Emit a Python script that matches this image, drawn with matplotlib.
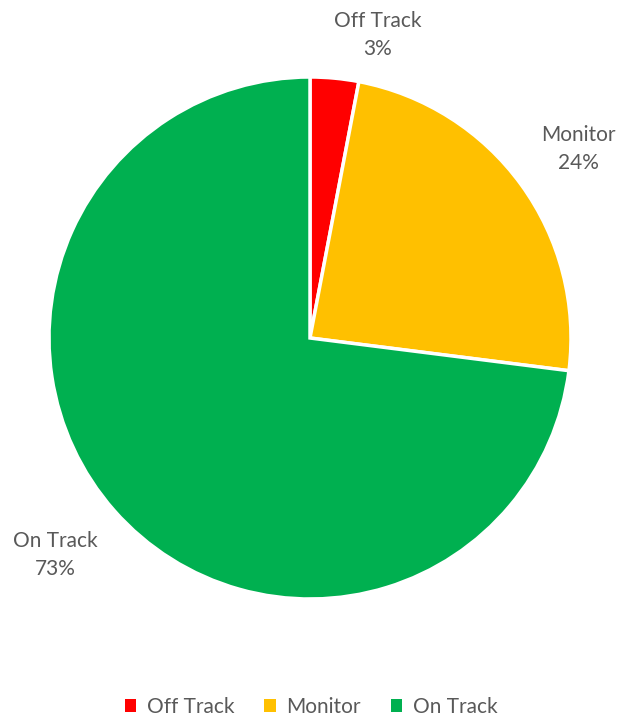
import matplotlib
matplotlib.use("Agg")
import matplotlib.pyplot as plt
import numpy as np
from matplotlib.patches import Patch

categories = ["Off Track", "Monitor", "On Track"]
values = [3, 24, 73]
colors = ["#FF0000", "#FFC000", "#00B050"]
# label centres in pixel coordinates (x from left, y from top)
label_pos = [(378, 35), (578, 149), (55, 555)]

W, H = 622, 723
fig = plt.figure(figsize=(W / 100, H / 100), dpi=100)
ax = fig.add_axes([0, 0, 1, 1])

cx, cy, R = 310, H - 338, 261
wedges, _ = ax.pie(values, colors=colors, startangle=90, counterclock=False,
                   center=(cx, cy), radius=R, frame=True,
                   wedgeprops=dict(edgecolor="white", linewidth=2.5))
ax.set_xlim(0, W)
ax.set_ylim(0, H)
ax.set_aspect("equal")
ax.axis("off")

font = ["Lato", "DejaVu Sans"]
tcol = "#595959"
fs = 15
for cat, v, (px, py) in zip(categories, values, label_pos):
    ax.text(px, H - py, f"{cat}\n{v}%", ha="center", va="center", fontsize=fs,
            color=tcol, family=font, linespacing=1.45)

handles = [Patch(facecolor=c, edgecolor="none") for c in colors]
leg = fig.legend(handles, categories, loc="center", bbox_to_anchor=(0.5, 1 - 707 / H),
                 ncol=3, frameon=False, handlelength=0.55, handleheight=0.55,
                 handletextpad=0.5, columnspacing=1.45,
                 prop=dict(family=font, size=fs))
for t in leg.get_texts():
    t.set_color(tcol)

fig.savefig("out.png", dpi=100, facecolor="white")
